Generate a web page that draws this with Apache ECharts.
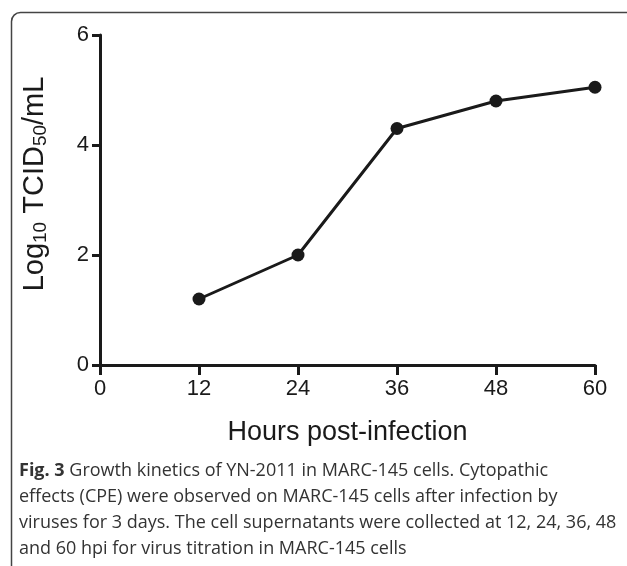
<!DOCTYPE html>
<html>
<head>
<meta charset="utf-8">
<script src="https://cdn.jsdelivr.net/npm/echarts@6/dist/echarts.min.js"></script>
<style>
  html, body { margin: 0; padding: 0; background: #fff; }
  #chart { width: 627px; height: 566px; }
</style>
</head>
<body>
<div id="chart"></div>
<script>
// growth kinetics
var hours = [12, 24, 36, 48, 60];
var titre = [1.2, 2.0, 4.3, 4.8, 5.05];
var xTicks = [0, 12, 24, 36, 48, 60];
var yTicks = [0, 2, 4, 6];

var captionLines = [
  '{b|Fig. 3} Growth kinetics of YN-2011 in MARC-145 cells. Cytopathic',
  'effects (CPE) were observed on MARC-145 cells after infection by',
  'viruses for 3 days. The cell supernatants were collected at 12, 24, 36, 48',
  'and 60 hpi for virus titration in MARC-145 cells'
];

var chart = echarts.init(document.getElementById('chart'), null, { renderer: 'canvas' });

var ink = '#1a1a1a';
var axisFont = 'Liberation Sans, Arial, sans-serif';

// frame round figure + caption, runs off the right and bottom edges
var graphics = [{
  type: 'rect',
  left: 9, top: 10,
  shape: { x: 0, y: 0, width: 624, height: 620, r: 9 },
  style: { fill: 'none', stroke: '#444', lineWidth: 1.5 },
  silent: true
}];
captionLines.forEach(function (line, i) {
  graphics.push({
    type: 'text',
    left: 19,
    top: 462 + i * 26,
    style: {
      text: line,
      fill: '#333',
      font: '18px "Open Sans", sans-serif',
      rich: {
        b: { fontWeight: 'bold', fontSize: 18, fontFamily: 'Open Sans', fill: '#333' }
      }
    },
    silent: true
  });
});

var option = {
  backgroundColor: '#fff',
  animation: false,
  grid: { left: 100, top: 35, right: 32, bottom: 201, containLabel: false },
  xAxis: {
    type: 'value',
    min: 0,
    max: 60,
    interval: 12,
    name: 'Hours post-infection',
    nameLocation: 'middle',
    nameGap: 54,
    nameTextStyle: { color: ink, fontSize: 27, fontFamily: axisFont },
    axisLine: { show: true, onZero: false, lineStyle: { color: ink, width: 3 } },
    axisTick: { show: true, length: 10, lineStyle: { color: ink, width: 3 } },
    axisLabel: {
      color: ink, fontSize: 22, fontFamily: axisFont, margin: 13,
      formatter: function (v) { return xTicks.indexOf(v) >= 0 ? String(v) : ''; }
    },
    splitLine: { show: false }
  },
  yAxis: {
    type: 'value',
    min: 0,
    max: 6,
    interval: 2,
    name: 'Log{s|10} TCID{s|50}/mL',
    nameLocation: 'middle',
    nameGap: 50,
    nameRotate: 90,
    nameTextStyle: {
      color: ink, fontSize: 29, fontFamily: axisFont,
      padding: [0, 0, 0, 32],
      rich: {
        s: { fontSize: 19, fontFamily: axisFont, color: ink, verticalAlign: 'bottom', padding: [12, 0, 0, 0] }
      }
    },
    axisLine: { show: true, lineStyle: { color: ink, width: 3 } },
    axisTick: { show: true, length: 8, lineStyle: { color: ink, width: 3 } },
    axisLabel: {
      color: ink, fontSize: 22, fontFamily: axisFont, margin: 11,
      formatter: function (v) { return yTicks.indexOf(v) >= 0 ? String(v) : ''; }
    },
    splitLine: { show: false }
  },
  series: [{
    type: 'line',
    data: hours.map(function (h, i) { return [h, titre[i]]; }),
    symbol: 'circle',
    symbolSize: 13,
    lineStyle: { color: ink, width: 3 },
    itemStyle: { color: ink }
  }],
  graphic: graphics
};

chart.setOption(option);
</script>
</body>
</html>
